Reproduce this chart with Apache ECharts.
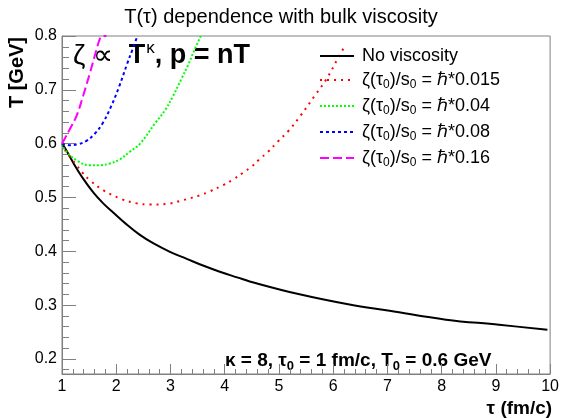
<!DOCTYPE html>
<html>
<head>
<meta charset="utf-8">
<script src="https://cdn.jsdelivr.net/npm/echarts@6/dist/echarts.min.js"></script>
<style>
  html, body { margin: 0; padding: 0; background: #fff; }
  #chart { width: 562px; height: 418px; }
</style>
</head>
<body>
<div id="chart"></div>
<script>
// values (tau in fm/c, T in GeV)
const tauIdeal = [1.0, 1.055, 1.21, 1.39, 1.58, 1.76, 1.944, 2.19, 2.43, 2.68, 2.99, 3.3, 3.6, 3.91, 4.245, 4.46, 5.38, 6.3, 7.04, 8.08, 9.06, 9.95];
const tIdeal   = [0.600, 0.592, 0.564, 0.535, 0.509, 0.489, 0.472, 0.450, 0.431, 0.415, 0.399, 0.386, 0.3735, 0.362, 0.351, 0.344, 0.320, 0.301, 0.2895, 0.273, 0.2635, 0.254];

const tau015 = [1.0, 1.055, 1.27, 1.36, 1.515, 1.76, 2.1, 2.38, 2.62, 2.93, 3.23, 3.54, 3.72, 3.97, 4.15, 4.34, 4.49, 4.64, 4.8, 4.98, 5.17, 5.39, 5.66, 5.87, 6.09, 6.19];
const t015   = [0.600, 0.588, 0.560, 0.548, 0.532, 0.5135, 0.497, 0.489, 0.487, 0.488, 0.495, 0.504, 0.511, 0.523, 0.533, 0.546, 0.557, 0.571, 0.585, 0.604, 0.623, 0.651, 0.689, 0.719, 0.759, 0.777];

const tau04 = [1.0, 1.055, 1.27, 1.515, 1.7, 1.88, 2.07, 2.25, 2.44, 2.71, 2.9, 3.05, 3.2, 3.32, 3.45, 3.56];
const t04   = [0.600, 0.588, 0.569, 0.560, 0.560, 0.563, 0.571, 0.585, 0.600, 0.637, 0.662, 0.689, 0.720, 0.745, 0.776, 0.800];

const tau08 = [1.0, 1.15, 1.3, 1.45, 1.6, 1.75, 1.9, 2.05, 2.2, 2.3, 2.39];
const t08   = [0.600, 0.597, 0.599, 0.605, 0.618, 0.638, 0.668, 0.705, 0.748, 0.775, 0.800];

const tau16 = [1.0, 1.05, 1.15, 1.27, 1.39, 1.52, 1.64, 1.70, 1.75, 1.82];
const t16   = [0.600, 0.609, 0.628, 0.652, 0.689, 0.733, 0.776, 0.795, 0.800, 0.800];

const yLabelTicks = [0.2, 0.3, 0.4, 0.5, 0.6, 0.7, 0.8];
const yMinorTicks = [0.18, 0.2, 0.22, 0.24, 0.26, 0.28, 0.3, 0.32, 0.34, 0.36, 0.38, 0.4, 0.42, 0.44, 0.46, 0.48,
                     0.5, 0.52, 0.54, 0.56, 0.58, 0.6, 0.62, 0.64, 0.66, 0.68, 0.7, 0.72, 0.74, 0.76, 0.78, 0.8];

const seriesNames = ['No viscosity', 'v015', 'v04', 'v08', 'v16'];
const legendText = {
  'No viscosity': 'No viscosity',
  v015: '{a|ζ(τ}{s|0}{a|)/s}{s|0}{a| = ℏ*0.015}',
  v04: '{a|ζ(τ}{s|0}{a|)/s}{s|0}{a| = ℏ*0.04}',
  v08: '{a|ζ(τ}{s|0}{a|)/s}{s|0}{a| = ℏ*0.08}',
  v16: '{a|ζ(τ}{s|0}{a|)/s}{s|0}{a| = ℏ*0.16}'
};

const pairs = (xs, ys) => xs.map((x, i) => [x, ys[i]]);
const FONT = 'Liberation Sans, Arial, sans-serif';
const AXIS = '#808080';

const chart = echarts.init(document.getElementById('chart'), null, { renderer: 'canvas' });

const lineSeries = (name, data, color, type, width) => ({
  name,
  type: 'line',
  data,
  smooth: 0.4,
  showSymbol: false,
  symbol: 'none',
  yAxisIndex: 0,
  lineStyle: { color, width, type },
  itemStyle: { color },
  z: 3
});

chart.setOption({
  animation: false,
  backgroundColor: '#fff',
  title: {
    text: 'T(τ) dependence with bulk viscosity',
    left: 'center',
    top: 2,
    textStyle: { fontFamily: FONT, fontSize: 20, fontWeight: 'normal', color: '#000' }
  },
  grid: { left: 62, right: 11, top: 36, bottom: 42, show: true, borderColor: AXIS, borderWidth: 1 },
  legend: {
    orient: 'vertical',
    left: 319,
    top: 47,
    padding: 0,
    itemWidth: 34,
    itemHeight: 14,
    itemGap: 6,
    data: seriesNames,
    itemStyle: { opacity: 0 },
    formatter: (name) => legendText[name],
    textStyle: {
      fontFamily: FONT, fontSize: 18, color: '#000', padding: [0, 0, 0, 3],
      rich: {
        a: { fontFamily: FONT, fontSize: 18, color: '#000' },
        s: { fontFamily: FONT, fontSize: 12, color: '#000', padding: [10, 0, 0, 0] }
      }
    }
  },
  xAxis: {
    type: 'value',
    min: 1,
    max: 10,
    interval: 1,
    name: 'τ (fm/c)',
    nameLocation: 'end',
    nameGap: 2,
    nameTextStyle: { fontFamily: FONT, fontSize: 19, fontWeight: 'bold', color: '#000', align: 'right', verticalAlign: 'top', padding: [25, 0, 0, 0] },
    axisLine: { lineStyle: { color: AXIS, width: 1 } },
    axisTick: { inside: true, length: 10, lineStyle: { color: AXIS } },
    minorTick: { show: true, splitNumber: 5, length: 5, lineStyle: { color: AXIS } },
    axisLabel: { fontFamily: FONT, fontSize: 16, color: '#000', margin: 5 },
    splitLine: { show: false }
  },
  yAxis: [
    {
      type: 'value',
      min: 0.172,
      max: 0.8,
      axisLine: { lineStyle: { color: AXIS, width: 1 } },
      axisTick: { inside: true, length: 14, customValues: yLabelTicks, lineStyle: { color: AXIS } },
      axisLabel: { fontFamily: FONT, fontSize: 16, color: '#000', margin: 5, customValues: yLabelTicks, formatter: (v) => v.toFixed(1) },
      splitLine: { show: false }
    },
    {
      type: 'value',
      position: 'left',
      min: 0.172,
      max: 0.8,
      axisLine: { show: false },
      axisTick: { inside: true, length: 7, customValues: yMinorTicks, lineStyle: { color: AXIS } },
      axisLabel: { show: false },
      splitLine: { show: false }
    }
  ],
  graphic: [
    {
      type: 'text',
      x: 17,
      y: 37,
      rotation: Math.PI / 2,
      style: { text: 'T [GeV]', fontFamily: FONT, fontSize: 20, fontWeight: 'bold', fill: '#000', align: 'right', verticalAlign: 'middle' }
    },
    {
      type: 'text',
      x: 73,
      y: 40,
      style: {
        text: '{n|ζ ∝  }{b|T}{p|κ}{b|, p = nT}',
        rich: {
          n: { fontFamily: FONT, fontSize: 28, fill: '#000' },
          b: { fontFamily: FONT, fontSize: 27, fontWeight: 'bold', fill: '#000' },
          p: { fontFamily: FONT, fontSize: 17, fill: '#000', padding: [0, 0, 15, 1] }
        }
      }
    },
    {
      type: 'text',
      x: 225,
      y: 349,
      style: {
        text: '{b|κ = 8, τ}{s|0}{b| = 1 fm/c, T}{s|0}{b| = 0.6 GeV}',
        rich: {
          b: { fontFamily: FONT, fontSize: 19, fontWeight: 'bold', fill: '#000' },
          s: { fontFamily: FONT, fontSize: 13, fontWeight: 'bold', fill: '#000', padding: [11, 0, 0, 0] }
        }
      }
    }
  ],
  series: [
    lineSeries('No viscosity', pairs(tauIdeal, tIdeal), '#000000', 'solid', 2),
    lineSeries('v015', pairs(tau015, t015), '#ff0000', [2, 5], 2),
    lineSeries('v04', pairs(tau04, t04), '#00ff00', [2, 2], 2),
    lineSeries('v08', pairs(tau08, t08), '#0000ff', [3, 3], 2),
    lineSeries('v16', pairs(tau16, t16), '#ff00ff', [9, 4], 2)
  ]
});
</script>
</body>
</html>
